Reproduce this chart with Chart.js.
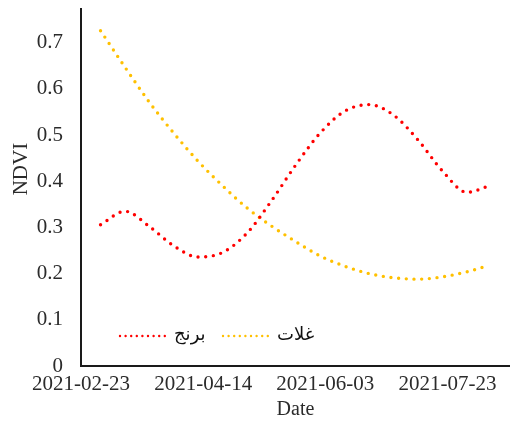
<!DOCTYPE html>
<html>
<head>
<meta charset="utf-8">
<title>NDVI</title>
<script src="https://cdn.jsdelivr.net/npm/chart.js@4.4.0/dist/chart.umd.min.js"></script>
<style>
  html, body { margin: 0; padding: 0; background: #fff; }
  #wrap { width: 510px; height: 434px; position: relative; }
</style>
</head>
<body>
<div id="wrap"><canvas id="c"></canvas></div>
<script>
// Date the time axis is measured from
const axisStartDate = '2021-02-23';

// Observation dates shared by both crops
const sampleDates = [
  '2021-03-03', '2021-03-13', '2021-03-23', '2021-04-02', '2021-04-12',
  '2021-04-22', '2021-05-02', '2021-05-12', '2021-05-22', '2021-06-01',
  '2021-06-11', '2021-06-21', '2021-07-01', '2021-07-11', '2021-07-21',
  '2021-07-31', '2021-08-09'
];

// NDVI of rice (برنج)
const riceNdvi = [
  0.306, 0.335, 0.302, 0.260, 0.236,
  0.246, 0.288, 0.358, 0.436, 0.505,
  0.552, 0.566, 0.543, 0.489, 0.422,
  0.376, 0.390
];

// NDVI of cereals (غلات)
const cerealNdvi = [
  0.726, 0.647, 0.571, 0.504, 0.443,
  0.390, 0.342, 0.303, 0.269, 0.238,
  0.216, 0.200, 0.191, 0.188, 0.193,
  0.204, 0.218
];

const seriesNames = ['برنج', 'غلات'];
const seriesColors = ['#FF0000', '#FFC000'];

// Axis ticks
const xTickDates = ['2021-02-23', '2021-04-14', '2021-06-03', '2021-07-23'];
const yTickValues = [0, 0.1, 0.2, 0.3, 0.4, 0.5, 0.6, 0.7];

const DAY = 86400000;
const dayOffset = s => Math.round((Date.parse(s + 'T00:00:00Z') - Date.parse(axisStartDate + 'T00:00:00Z')) / DAY);
const dateFromOffset = d => new Date(Date.parse(axisStartDate + 'T00:00:00Z') + d * DAY).toISOString().slice(0, 10);

const toPoints = values => sampleDates.map((d, i) => ({ x: dayOffset(d), y: values[i] }));

const serif = "'Liberation Serif', 'Times New Roman', 'DejaVu Serif', serif";
const textColor = '#2b2b2b';

// Legend drawn inside the plot, near its lower-left corner
const insideLegend = {
  id: 'insideLegend',
  afterDraw(chart, args, opts) {
    const { ctx, chartArea } = chart;
    let x = chartArea.left + opts.offsetX;
    const y = chartArea.bottom - opts.offsetY;
    ctx.save();
    ctx.font = opts.font;
    ctx.textBaseline = 'middle';
    ctx.textAlign = 'left';
    chart.data.datasets.forEach(ds => {
      ctx.beginPath();
      ctx.strokeStyle = ds.borderColor;
      ctx.lineWidth = opts.dotSize;
      ctx.lineCap = 'round';
      ctx.setLineDash([0, opts.dotGap]);
      ctx.moveTo(x, y);
      ctx.lineTo(x + opts.sampleLength, y);
      ctx.stroke();
      ctx.setLineDash([]);
      ctx.fillStyle = opts.color;
      ctx.fillText(ds.label, x + opts.sampleLength + opts.textGap, y - 1);
      x += opts.itemStride;
    });
    ctx.restore();
  }
};

const lineStyle = color => ({
  borderColor: color,
  backgroundColor: color,
  borderWidth: 3.4,
  borderDash: [0, 7.7],
  borderCapStyle: 'round',
  pointRadius: 0,
  pointHoverRadius: 0,
  fill: false,
  cubicInterpolationMode: 'monotone'
});

new Chart(document.getElementById('c'), {
  type: 'line',
  data: {
    datasets: [
      { label: seriesNames[0], data: toPoints(riceNdvi), ...lineStyle(seriesColors[0]) },
      { label: seriesNames[1], data: toPoints(cerealNdvi), ...lineStyle(seriesColors[1]) }
    ]
  },
  options: {
    responsive: true,
    maintainAspectRatio: false,
    animation: false,
    devicePixelRatio: 1,
    layout: { padding: { top: 9, right: 0, bottom: 0, left: 0 } },
    plugins: {
      legend: { display: false },
      tooltip: { enabled: false },
      insideLegend: {
        offsetX: 39,
        offsetY: 30,
        sampleLength: 45,
        dotSize: 2.4,
        dotGap: 5.6,
        textGap: 9,
        itemStride: 103,
        font: "18px 'DejaVu Sans', sans-serif",
        color: '#111'
      }
    },
    scales: {
      x: {
        type: 'linear',
        min: 0,
        max: 175.6,
        grid: { display: false, drawTicks: false },
        border: { display: true, color: '#1a1a1a', width: 2 },
        afterBuildTicks: s => { s.ticks = xTickDates.map(d => ({ value: dayOffset(d) })); },
        afterFit: s => { s.height = 68; s.paddingLeft = 0; s.paddingRight = 0; },
        ticks: {
          padding: 6,
          maxRotation: 0,
          autoSkip: false,
          color: textColor,
          font: { family: serif, size: 21 },
          callback: v => dateFromOffset(v)
        },
        title: {
          display: true,
          text: 'Date',
          color: textColor,
          font: { family: serif, size: 20 },
          padding: { top: 0, bottom: 12 }
        }
      },
      y: {
        min: 0,
        max: 0.773,
        grid: { display: false, drawTicks: false },
        border: { display: true, color: '#1a1a1a', width: 2 },
        afterBuildTicks: s => { s.ticks = yTickValues.map(v => ({ value: v })); },
        afterFit: s => { s.width = 81; s.paddingTop = 0; s.paddingBottom = 0; },
        ticks: {
          padding: 18,
          color: textColor,
          font: { family: serif, size: 21 },
          callback: v => (v === 0 ? '0' : v.toFixed(1))
        },
        title: {
          display: true,
          // leading no-break spaces lift the rotated label a little above the axis centre
          text: '\u00A0\u00A0\u00A0\u00A0\u00A0\u00A0\u00A0NDVI',
          color: textColor,
          font: { family: serif, size: 21 },
          padding: { top: 9, bottom: 0 }
        }
      }
    }
  },
  plugins: [insideLegend]
});
</script>
</body>
</html>
